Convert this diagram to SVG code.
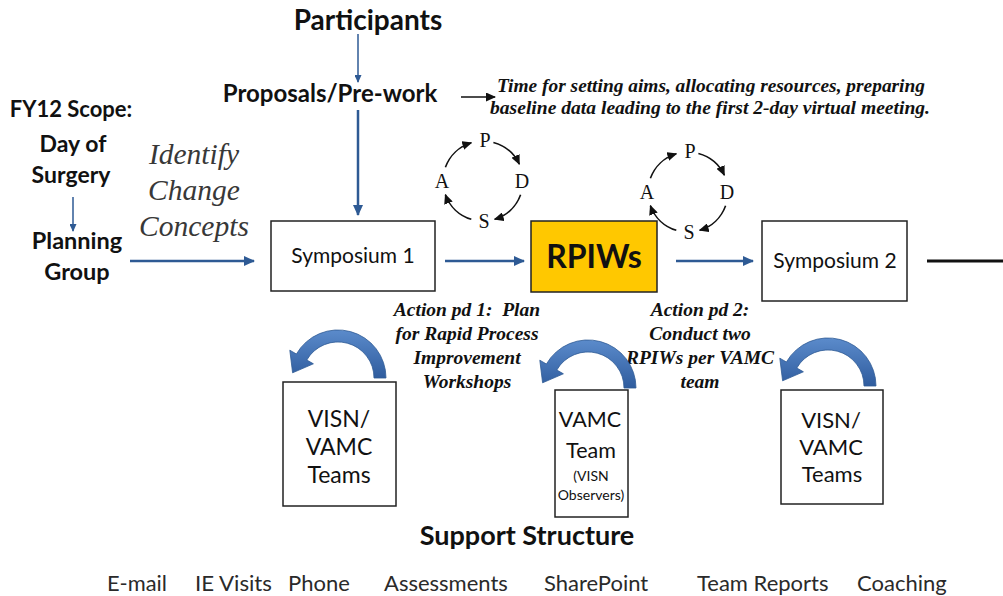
<svg xmlns="http://www.w3.org/2000/svg" width="1003" height="596" viewBox="0 0 1003 596">
<style>
.sans{font-family:Lato,"Liberation Sans",sans-serif;fill:#111}
.b{font-weight:bold}
.sbi{font-family:"Liberation Serif",serif;font-style:italic;font-weight:bold;fill:#111}
.si{font-family:"Liberation Serif",serif;font-style:italic;fill:#383838}
.ser{font-family:"Liberation Serif",serif;fill:#111}
.box{fill:#fff;stroke:#222;stroke-width:1.5}
.blue{stroke:#2E5A94;fill:none}
.pd{stroke:#111;stroke-width:1.6;fill:none;marker-end:url(#mk)}
.curl{fill:url(#g);stroke:#2E5A94;stroke-width:0.8}
.bot{font-family:Lato,"Liberation Sans",sans-serif;fill:#2a2a2a;font-size:22px}
</style>
<defs>
<marker id="ab" markerUnits="userSpaceOnUse" markerWidth="11" markerHeight="10" refX="10" refY="5" orient="auto"><path d="M0,0 L11,5 L0,10 z" fill="#2E5A94"/></marker>
<marker id="as" markerUnits="userSpaceOnUse" markerWidth="8" markerHeight="7" refX="7" refY="3.5" orient="auto"><path d="M0,0 L8,3.5 L0,7 z" fill="#2E5A94"/></marker>
<marker id="mk" markerUnits="userSpaceOnUse" markerWidth="10" markerHeight="9" refX="9" refY="4.5" orient="auto"><path d="M0,0 L10,4.5 L0,9 z" fill="#111"/></marker>
<linearGradient id="g" x1="0" y1="0" x2="0" y2="1"><stop offset="0" stop-color="#5B8BCB"/><stop offset="1" stop-color="#2F5C9E"/></linearGradient>
<path id="curl" d="M386 378 A48 48 0 0 0 296.4 354 L289.8 350.2 L292.6 372.8 L313.4 363.8 L306.8 360 A36 36 0 0 1 374 378 Z"/>
</defs>

<g id="connectors">
<line class="blue" x1="358" y1="34" x2="358" y2="82" stroke-width="1.5" marker-end="url(#as)"/>
<line class="blue" x1="358" y1="110" x2="358" y2="215" stroke-width="2.5" marker-end="url(#ab)"/>
<line x1="461" y1="97" x2="495" y2="97" stroke="#111" stroke-width="1.5" marker-end="url(#mk)"/>
<line class="blue" x1="73" y1="197" x2="73" y2="231" stroke-width="1.5" marker-end="url(#as)"/>
<line class="blue" x1="130" y1="261" x2="254" y2="261" stroke-width="2.5" marker-end="url(#ab)"/>
<line class="blue" x1="445" y1="261" x2="524" y2="261" stroke-width="2.5" marker-end="url(#ab)"/>
<line class="blue" x1="676" y1="261" x2="753" y2="261" stroke-width="2.5" marker-end="url(#ab)"/>
<line x1="927" y1="261" x2="1003" y2="261" stroke="#111" stroke-width="3"/>
</g>

<g id="participants"><text class="sans b" x="368" y="30" font-size="28" text-anchor="middle">Participants</text></g>
<g id="proposals"><text class="sans b" x="330" y="102" font-size="24" text-anchor="middle">Proposals/Pre-work</text></g>
<g id="time-note">
<text class="sbi" x="497" y="92" font-size="19.5" textLength="428" lengthAdjust="spacingAndGlyphs">Time for setting aims, allocating resources, preparing</text>
<text class="sbi" x="490" y="114" font-size="19.5" textLength="440" lengthAdjust="spacingAndGlyphs">baseline data leading to the first 2-day virtual meeting.</text>
</g>

<g id="fy12">
<text class="sans b" x="71" y="117" font-size="22" text-anchor="middle">FY12 Scope:</text>
<text class="sans b" x="73" y="152" font-size="23" text-anchor="middle">Day of</text>
<text class="sans b" x="71" y="183" font-size="23" text-anchor="middle">Surgery</text>
</g>
<g id="planning">
<text class="sans b" x="77" y="249" font-size="23.5" text-anchor="middle">Planning</text>
<text class="sans b" x="77" y="280" font-size="23.5" text-anchor="middle">Group</text>
</g>
<g id="identify">
<text class="si" x="194" y="164" font-size="29.5" text-anchor="middle">Identify</text>
<text class="si" x="194" y="200" font-size="29.5" text-anchor="middle">Change</text>
<text class="si" x="194" y="236" font-size="29.5" text-anchor="middle">Concepts</text>
</g>

<g id="symposium1"><rect class="box" x="271" y="221" width="164" height="70"/><text class="sans" x="353" y="263" font-size="21" text-anchor="middle">Symposium 1</text></g>
<g id="rpiws"><rect x="531" y="221" width="126" height="71" fill="#FFC800" stroke="#222" stroke-width="1.5"/><text class="sans b" x="594" y="268" font-size="32" text-anchor="middle">RPIWs</text></g>
<g id="symposium2"><rect class="box" x="762" y="221" width="145" height="80"/><text class="sans" x="835" y="268" font-size="21" text-anchor="middle">Symposium 2</text></g>

<g id="pdsa1">
<path class="pd" d="M493.4 142.4 A40 40 0 0 1 519.3 164.1"/>
<path class="pd" d="M520.6 194.7 A40 40 0 0 1 494.7 219.3"/>
<path class="pd" d="M471.3 219.3 A40 40 0 0 1 445.4 194.7"/>
<path class="pd" d="M445.4 167.3 A40 40 0 0 1 471.3 142.75"/>
<text class="ser" x="485" y="147" font-size="20" text-anchor="middle">P</text>
<text class="ser" x="522" y="188" font-size="20" text-anchor="middle">D</text>
<text class="ser" x="484" y="228" font-size="20" text-anchor="middle">S</text>
<text class="ser" x="442" y="188" font-size="20" text-anchor="middle">A</text>
</g>
<g id="pdsa2" transform="translate(205 11)">
<path class="pd" d="M493.4 142.4 A40 40 0 0 1 519.3 164.1"/>
<path class="pd" d="M520.6 194.7 A40 40 0 0 1 494.7 219.3"/>
<path class="pd" d="M471.3 219.3 A40 40 0 0 1 445.4 194.7"/>
<path class="pd" d="M445.4 167.3 A40 40 0 0 1 471.3 142.75"/>
<text class="ser" x="485" y="147" font-size="20" text-anchor="middle">P</text>
<text class="ser" x="522" y="188" font-size="20" text-anchor="middle">D</text>
<text class="ser" x="484" y="228" font-size="20" text-anchor="middle">S</text>
<text class="ser" x="442" y="188" font-size="20" text-anchor="middle">A</text>
</g>

<g id="action1">
<text class="sbi" x="467" y="316" font-size="19.5" text-anchor="middle">Action pd 1:&#160; Plan</text>
<text class="sbi" x="467" y="340" font-size="19.5" text-anchor="middle">for Rapid Process</text>
<text class="sbi" x="467" y="364" font-size="19.5" text-anchor="middle">Improvement</text>
<text class="sbi" x="467" y="388" font-size="19.5" text-anchor="middle">Workshops</text>
</g>
<g id="action2">
<text class="sbi" x="700" y="316" font-size="19.5" text-anchor="middle">Action pd 2:</text>
<text class="sbi" x="700" y="340" font-size="19.5" text-anchor="middle">Conduct two</text>
<text class="sbi" x="700" y="364" font-size="19.5" text-anchor="middle">RPIWs per VAMC</text>
<text class="sbi" x="700" y="388" font-size="19.5" text-anchor="middle">team</text>
</g>

<g id="curl1"><use href="#curl" class="curl"/></g>
<g id="curl2" transform="translate(250 10)"><use href="#curl" class="curl"/></g>
<g id="curl3" transform="translate(490 8)"><use href="#curl" class="curl"/></g>

<g id="teams1"><rect class="box" x="283" y="382" width="113" height="124"/>
<text class="sans" x="339" y="427" font-size="23" text-anchor="middle">VISN/</text>
<text class="sans" x="339" y="455" font-size="23" text-anchor="middle">VAMC</text>
<text class="sans" x="339" y="483" font-size="23" text-anchor="middle">Teams</text></g>
<g id="vamc-team"><rect class="box" x="555" y="390" width="73" height="127"/>
<text class="sans" x="590" y="427" font-size="21.5" text-anchor="middle">VAMC</text>
<text class="sans" x="591" y="458" font-size="21.5" text-anchor="middle">Team</text>
<text class="sans" x="591" y="481" font-size="14" text-anchor="middle">(VISN</text>
<text class="sans" x="591" y="500" font-size="14" text-anchor="middle">Observers)</text></g>
<g id="teams3"><rect class="box" x="781" y="390" width="102" height="114"/>
<text class="sans" x="831" y="428" font-size="22" text-anchor="middle">VISN/</text>
<text class="sans" x="831" y="455" font-size="22" text-anchor="middle">VAMC</text>
<text class="sans" x="832" y="482" font-size="22" text-anchor="middle">Teams</text></g>

<g id="support"><text class="sans b" x="527" y="545" font-size="27" text-anchor="middle">Support Structure</text></g>
<g id="support-items">
<text class="bot" x="107" y="591" textLength="60" lengthAdjust="spacingAndGlyphs">E-mail</text>
<text class="bot" x="195" y="591" textLength="77" lengthAdjust="spacingAndGlyphs">IE Visits</text>
<text class="bot" x="288" y="591">Phone</text>
<text class="bot" x="384" y="591">Assessments</text>
<text class="bot" x="544" y="591">SharePoint</text>
<text class="bot" x="697" y="591">Team Reports</text>
<text class="bot" x="857" y="591">Coaching</text>
</g>
</svg>
